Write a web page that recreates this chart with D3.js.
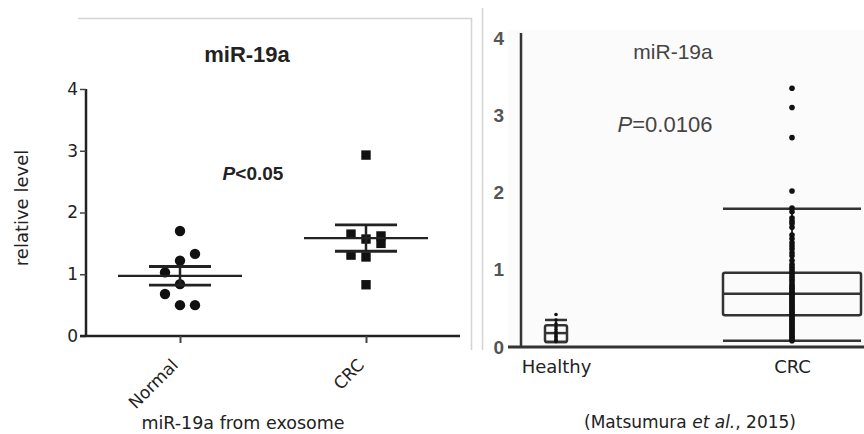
<!DOCTYPE html>
<html><head><meta charset="utf-8">
<script src="https://cdn.jsdelivr.net/npm/d3@7"></script>
<style>
html,body{margin:0;padding:0;background:#fff;}
svg{display:block;}
</style></head>
<body>
<svg id="c" width="864" height="434"></svg>
<script>
// ---------- Left panel data (exosome miR-19a) ----------
const leftCategories = ["Normal", "CRC"];
const normalValues = [1.70, 1.33, 1.22, 1.03, 0.84, 0.68, 0.50, 0.50];
const normalLanes  = [0, 1, 0, -1, 0, -1, 0, 1];
const crcValues    = [2.93, 1.65, 1.57, 1.62, 1.50, 1.31, 1.28, 0.83];
const crcLanes     = [0, -1, 0, 1, 1, -1, 0, 0];
const leftTicks = [0, 1, 2, 3, 4];

// ---------- Right panel data (Matsumura et al., 2015) ----------
const rightCategories = ["Healthy", "CRC"];
const rightTicks = [0, 1, 2, 3, 4];
const healthyBox = {low: 0.065, q1: 0.065, median: 0.18, q3: 0.28, high: 0.35};
const healthyPoints = [0.07, 0.08, 0.10, 0.12, 0.14, 0.16, 0.18, 0.20, 0.23, 0.26, 0.30, 0.35, 0.42];
const crcBox = {low: 0.08, q1: 0.41, median: 0.69, q3: 0.96, high: 1.79};
const crcPoints = [0.08, 0.10, 0.12, 0.14, 0.16, 0.18, 0.20, 0.22, 0.24, 0.26, 0.28, 0.30,
  0.32, 0.34, 0.36, 0.38, 0.40, 0.42, 0.44, 0.46, 0.48, 0.50, 0.52, 0.54, 0.56, 0.58,
  0.60, 0.62, 0.64, 0.66, 0.68, 0.70, 0.72, 0.74, 0.76, 0.78, 0.80, 0.83, 0.86, 0.89,
  0.92, 0.95, 0.98, 1.01, 1.04, 1.07, 1.12, 1.18, 1.22, 1.27, 1.31, 1.35, 1.40, 1.45,
  1.55, 1.60, 1.63, 1.67, 1.75, 1.80, 2.02, 2.71, 3.10, 3.35];

const svg = d3.select("#c");
const sans = "'DejaVu Sans', sans-serif";
const arial = "'Liberation Sans', Arial, sans-serif";

// ================= LEFT PANEL =================
svg.append("path").attr("d", "M78,18.5H471.5V350").attr("fill", "none")
  .attr("stroke", "#d4d4d4").attr("stroke-width", 1.5);

const yL = d3.scaleLinear().domain([0, 4]).range([336, 89]);
const xL = d3.scalePoint().domain(leftCategories).range([180, 366]);

const gL = svg.append("g");
const yAxisL = d3.axisLeft(yL).tickValues(leftTicks).tickSize(6).tickPadding(2).tickFormat(d3.format("d"));
const gyL = gL.append("g").attr("transform", "translate(86,0)").call(yAxisL);
gyL.select(".domain").attr("stroke", "#222").attr("stroke-width", 2.5).attr("d", "M0,89V337");
gyL.selectAll(".tick line").attr("stroke", "#444").attr("stroke-width", 1.5);
gyL.selectAll(".tick text").attr("font-family", sans).attr("font-size", 17).attr("fill", "#222");

const xAxisL = d3.axisBottom(xL).tickSize(7).tickFormat("");
const gxL = gL.append("g").attr("transform", "translate(0,336)").call(xAxisL);
gxL.select(".domain").attr("stroke", "#222").attr("stroke-width", 2.5).attr("d", "M80,0H460");
gxL.selectAll(".tick line").attr("stroke", "#444").attr("stroke-width", 2);
leftCategories.forEach(c => {
  gL.append("text").attr("transform", `translate(${xL(c) - 8},359) rotate(-45)`)
    .attr("text-anchor", "end").attr("dy", "0.6em")
    .attr("font-family", sans).attr("font-size", 17).attr("fill", "#222").text(c);
});

function stats(v) {
  const m = d3.mean(v);
  const sem = d3.deviation(v) / Math.sqrt(v.length);
  return {m, sem};
}
const groups = [
  {cat: "Normal", values: normalValues, lanes: normalLanes, shape: "circle"},
  {cat: "CRC", values: crcValues, lanes: crcLanes, shape: "square"}
];
const laneStep = 15;
groups.forEach(g => {
  const cx = xL(g.cat);
  const pts = g.values.map((v, i) => ({v, lane: g.lanes[i]}));
  if (g.shape === "circle") {
    gL.selectAll(null).data(pts).join("circle")
      .attr("cx", d => cx + d.lane * laneStep).attr("cy", d => yL(d.v))
      .attr("r", 5.2).attr("fill", "#111");
  } else {
    gL.selectAll(null).data(pts).join("rect")
      .attr("x", d => cx + d.lane * laneStep - 4.7).attr("y", d => yL(d.v) - 4.7)
      .attr("width", 9.4).attr("height", 9.4).attr("fill", "#111");
  }
  const s = stats(g.values);
  const stroke = "#222";
  gL.append("line").attr("x1", cx - 62).attr("x2", cx + 62).attr("y1", yL(s.m)).attr("y2", yL(s.m))
    .attr("stroke", stroke).attr("stroke-width", 2.2);
  [s.m + s.sem, s.m - s.sem].forEach(v => {
    gL.append("line").attr("x1", cx - 31).attr("x2", cx + 31).attr("y1", yL(v)).attr("y2", yL(v))
      .attr("stroke", stroke).attr("stroke-width", 2.8);
  });
  gL.append("line").attr("x1", cx).attr("x2", cx).attr("y1", yL(s.m + s.sem)).attr("y2", yL(s.m - s.sem))
    .attr("stroke", stroke).attr("stroke-width", 2.5);
});

gL.append("text").attr("x", 247).attr("y", 62).attr("text-anchor", "middle")
  .attr("font-family", arial).attr("font-weight", "bold").attr("font-size", 22).attr("fill", "#222").text("miR-19a");
const pt = gL.append("text").attr("x", 253).attr("y", 180).attr("text-anchor", "middle")
  .attr("font-family", arial).attr("font-weight", "bold").attr("font-size", 19).attr("fill", "#222");
pt.append("tspan").attr("font-style", "italic").text("P");
pt.append("tspan").text("<0.05");
gL.append("text").attr("transform", "translate(28,208) rotate(-90)").attr("text-anchor", "middle")
  .attr("font-family", sans).attr("font-size", 18).attr("fill", "#222").text("relative level");
gL.append("text").attr("x", 243).attr("y", 429).attr("text-anchor", "middle")
  .attr("font-family", sans).attr("font-size", 17.5).attr("fill", "#222").text("miR-19a from exosome");

// ================= RIGHT PANEL =================
svg.append("line").attr("x1", 482.5).attr("x2", 482.5).attr("y1", 8).attr("y2", 350)
  .attr("stroke", "#d4d4d4").attr("stroke-width", 1.5);
svg.append("rect").attr("x", 508).attr("y", 30).attr("width", 356).attr("height", 318).attr("fill", "#fbfbfb");

const yR = d3.scaleLinear().domain([0, 4]).range([347, 38]);
const xR = d3.scalePoint().domain(rightCategories).range([556, 792]);
const gR = svg.append("g");

const gyR = gR.append("g").attr("transform", "translate(521,0)")
  .call(d3.axisLeft(yR).tickValues(rightTicks).tickSize(0).tickPadding(17).tickFormat(d3.format("d")));
gyR.select(".domain").attr("stroke", "#333").attr("stroke-width", 2.5).attr("d", "M0,33V347");
gyR.selectAll(".tick text").attr("font-family", arial).attr("font-weight", "bold").attr("font-size", 19).attr("fill", "#555");

const gxR = gR.append("g").attr("transform", "translate(0,347)")
  .call(d3.axisBottom(xR).tickSize(0).tickPadding(13));
gxR.select(".domain").attr("stroke", "#333").attr("stroke-width", 3).attr("d", "M508,0H864");
gxR.selectAll(".tick text").attr("font-family", sans).attr("font-size", 18).attr("fill", "#222");

function drawBox(cat, b, w, pts) {
  const cx = xR(cat);
  const col = "#333";
  gR.append("line").attr("x1", cx).attr("x2", cx).attr("y1", yR(b.high)).attr("y2", yR(b.low))
    .attr("stroke", col).attr("stroke-width", 2);
  gR.append("rect").attr("x", cx - w / 2).attr("y", yR(b.q3)).attr("width", w)
    .attr("height", yR(b.q1) - yR(b.q3)).attr("rx", 2).attr("fill", "none")
    .attr("stroke", col).attr("stroke-width", 2.5);
  gR.append("line").attr("x1", cx - w / 2).attr("x2", cx + w / 2).attr("y1", yR(b.median)).attr("y2", yR(b.median))
    .attr("stroke", col).attr("stroke-width", 2.5);
  [b.high, b.low].forEach(v => {
    gR.append("line").attr("x1", cx - w / 2).attr("x2", cx + w / 2).attr("y1", yR(v)).attr("y2", yR(v))
      .attr("stroke", col).attr("stroke-width", 2.5);
  });
  gR.selectAll(null).data(pts).join("circle")
    .attr("cx", cx).attr("cy", d => yR(d)).attr("r", w > 50 ? 2.8 : 1.8).attr("fill", "#111");
}
drawBox("Healthy", healthyBox, 22, healthyPoints);
drawBox("CRC", crcBox, 138, crcPoints);

gR.append("text").attr("x", 673).attr("y", 59).attr("text-anchor", "middle")
  .attr("font-family", arial).attr("font-size", 21).attr("fill", "#444").text("miR-19a");
const pr = gR.append("text").attr("x", 665).attr("y", 132).attr("text-anchor", "middle")
  .attr("font-family", arial).attr("font-size", 22).attr("fill", "#444");
pr.append("tspan").attr("font-style", "italic").text("P");
pr.append("tspan").text("=0.0106");

const cite = gR.append("text").attr("x", 690).attr("y", 428).attr("text-anchor", "middle")
  .attr("font-family", sans).attr("font-size", 17).attr("fill", "#222");
cite.append("tspan").text("(Matsumura ");
cite.append("tspan").attr("font-style", "italic").text("et al.");
cite.append("tspan").text(", 2015)");
</script>
</body></html>
